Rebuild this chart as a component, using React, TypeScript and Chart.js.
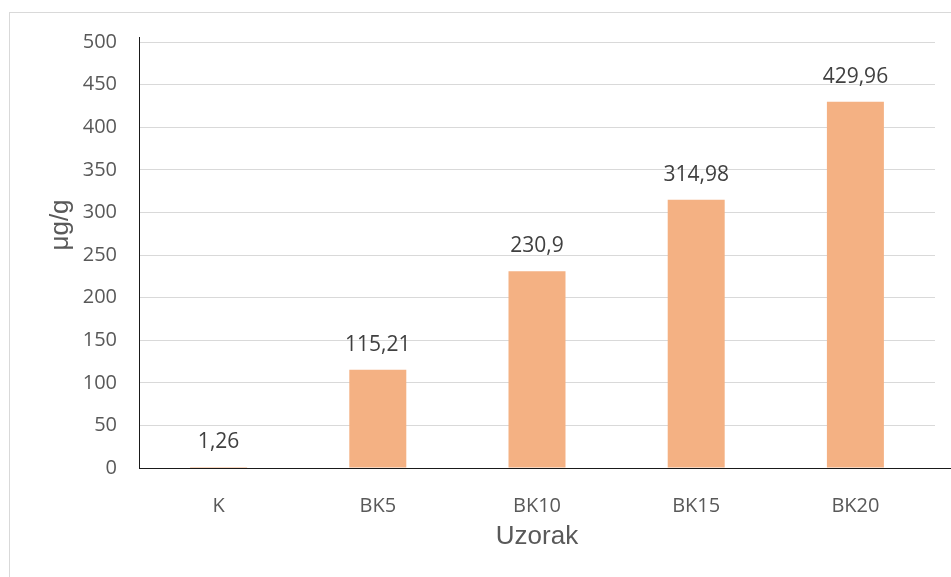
import React, { useEffect, useRef } from "react";
import { Chart, registerables } from "chart.js";

Chart.register(...registerables);

const categories = ["K", "BK5", "BK10", "BK15", "BK20"];
const values = [1.26, 115.21, 230.9, 314.98, 429.96];
const valueLabels = ["1,26", "115,21", "230,9", "314,98", "429,96"];
const yTitle = "μg/g";
const xTitle = "Uzorak";

const FONT = "'Liberation Sans', Arial, sans-serif";
const TFONT = "'Open Sans', 'Liberation Sans', sans-serif";

const overlay = {
  id: "overlay",
  afterDraw(chart: any) {
    const { ctx, chartArea } = chart;
    const { left, right, top, bottom } = chartArea;
    ctx.save();
    // axis lines
    ctx.strokeStyle = "#1a1a1a";
    ctx.lineWidth = 1;
    ctx.beginPath();
    ctx.moveTo(Math.round(left) + 0.5, top - 5);
    ctx.lineTo(Math.round(left) + 0.5, bottom + 1);
    ctx.stroke();
    ctx.beginPath();
    ctx.moveTo(left, Math.round(bottom) + 0.5);
    ctx.lineTo(chart.width, Math.round(bottom) + 0.5);
    ctx.stroke();
    // data labels
    const meta = chart.getDatasetMeta(0);
    ctx.fillStyle = "#404040";
    ctx.font = `21px ${TFONT}`;
    ctx.textAlign = "center";
    ctx.textBaseline = "middle";
    meta.data.forEach((bar: any, i: number) => {
      ctx.fillText(valueLabels[i], bar.x, bar.y - 25);
    });
    // axis titles
    ctx.fillStyle = "#595959";
    ctx.font = `26px ${FONT}`;
    ctx.fillText(xTitle, (left + right) / 2, 537);
    ctx.translate(61, 225);
    ctx.rotate(-Math.PI / 2);
    ctx.fillText(yTitle, 0, 0);
    ctx.restore();
  },
};

export default function App() {
  const ref = useRef<HTMLCanvasElement>(null);
  useEffect(() => {
    if (!ref.current) return;
    const chart = new Chart(ref.current, {
      type: "bar",
      data: {
        labels: categories,
        datasets: [
          {
            data: values,
            backgroundColor: "#F4B183",
            borderWidth: 0,
            categoryPercentage: 1,
            barPercentage: 0.358,
          },
        ],
      },
      options: {
        responsive: false,
        animation: false,
        devicePixelRatio: 1,
        layout: { padding: { top: 42, right: 16, left: 0, bottom: 0 } },
        plugins: { legend: { display: false }, tooltip: { enabled: false } },
        scales: {
          x: {
            grid: { display: false },
            border: { display: false },
            ticks: { color: "#595959", font: { family: TFONT, size: 20 }, padding: 18 },
            afterFit(scale: any) {
              scale.height = 109;
            },
          },
          y: {
            min: 0,
            max: 500,
            grid: { color: "#d9d9d9", drawTicks: false },
            border: { display: false },
            ticks: { stepSize: 50, color: "#595959", font: { family: TFONT, size: 20 }, padding: 22 },
            afterFit(scale: any) {
              scale.width = 139;
            },
          },
        },
      },
      plugins: [overlay],
    });
    return () => chart.destroy();
  }, []);
  return (
    <div style={{ position: "fixed", left: 0, top: 0, width: 951, height: 577, overflow: "hidden", background: "#fff" }}>
      <div
        style={{
          position: "absolute",
          left: 9,
          top: 12,
          width: 1000,
          height: 700,
          border: "1px solid #d9d9d9",
          boxSizing: "border-box",
        }}
      />
      <canvas ref={ref} width={951} height={577} style={{ position: "absolute", left: 0, top: 0, width: 951, height: 577 }} />
    </div>
  );
}
